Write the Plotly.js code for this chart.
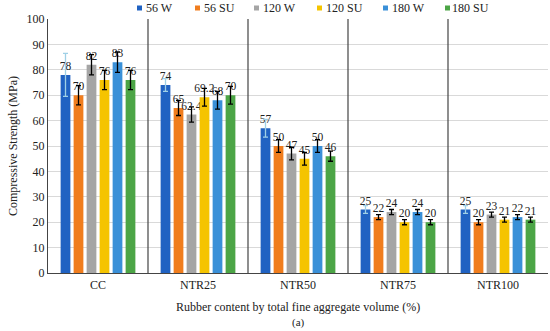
<!DOCTYPE html>
<html>
<head>
<meta charset="utf-8">
<script src="https://cdn.plot.ly/plotly-3.0.1.min.js"></script>
<style>html,body{margin:0;padding:0;background:#fff;}#chart{width:550px;height:331px;}</style>
</head>
<body>
<div id="chart"></div>
<script>
const categories = ["CC", "NTR25", "NTR50", "NTR75", "NTR100"];
const seriesNames = ["56 W", "56 SU", "120 W", "120 SU", "180 W", "180 SU"];
const values = [
  [78, 74, 57, 25, 25],
  [70, 65, 50, 22, 20],
  [82, 62.4, 47, 24, 23],
  [76, 69.2, 45, 20, 21],
  [83, 68, 50, 24, 22],
  [76, 70, 46, 20, 21]
];
const labels = [
  ["78", "74", "57", "25", "25"],
  ["70", "65", "50", "22", "20"],
  ["82", "62.4", "47", "24", "23"],
  ["76", "69.2", "45", "20", "21"],
  ["83", "68", "50", "24", "22"],
  ["76", "70", "46", "20", "21"]
];
const errors = [
  [8.5, 2.5, 3.5, 1.5, 1.5],
  [3.8, 3, 2.5, 1, 1],
  [4, 3, 2.5, 1, 1],
  [3.8, 3.5, 2.5, 1, 1],
  [4, 3.5, 2.5, 1, 1],
  [3.8, 3.5, 2, 1, 1]
];
const colors = ["#2062c2", "#f07d1e", "#a5a5a5", "#f5c400", "#3a90d8", "#4ca546"];
const errColors = ["#9fd0e6", "#000", "#000", "#000", "#000", "#000"];

// legend layout (pixel positions of marker left edge and text start)
const W = 550, H = 331, ML = 48, MR = 2, MT = 19, MB = 58;
const PW = W - ML - MR, PH = H - MT - MB;
const legMarkerPx = [137, 195, 254, 317, 383, 445];
const legTextPx = [145, 203, 262, 325, 391, 451];
const legYPx = 8;
const px2x = p => (p - ML) / PW;
const px2y = p => (H - MB - p) / PH;

const serif = "Liberation Serif";
const traces = seriesNames.map((n, i) => ({
  type: "bar",
  name: n,
  x: categories,
  y: values[i],
  text: labels[i],
  textposition: "outside",
  constraintext: "none",
  cliponaxis: false,
  textfont: {family: serif, size: 11.5, color: "#222"},
  marker: {color: colors[i]},
  error_y: {type: "data", array: errors[i], visible: true, color: errColors[i], thickness: 1.3, width: 2.5}
}));

const shapes = [0.5, 1.5, 2.5, 3.5].map(v => ({
  type: "line", xref: "x", yref: "paper", x0: v, x1: v, y0: 0, y1: 1,
  line: {color: "#444", width: 1.2}
}));
seriesNames.forEach((n, i) => {
  shapes.push({type: "rect", xref: "paper", yref: "paper",
    x0: px2x(legMarkerPx[i]), x1: px2x(legMarkerPx[i] + 5),
    y0: px2y(legYPx + 2.5), y1: px2y(legYPx - 2.5),
    fillcolor: colors[i], line: {width: 0}});
});

const annotations = [{text: "(a)", xref: "paper", yref: "paper", x: 0.5, y: 0, yshift: -49,
  showarrow: false, font: {family: serif, size: 11}, xanchor: "center", yanchor: "middle"}];
seriesNames.forEach((n, i) => {
  annotations.push({text: n, xref: "paper", yref: "paper", x: px2x(legTextPx[i]), y: px2y(legYPx),
    xanchor: "left", yanchor: "middle", showarrow: false, borderpad: 0,
    font: {family: serif, size: 12, color: "#222"}});
});

const layout = {
  width: W, height: H,
  margin: {l: ML, r: MR, t: MT, b: MB},
  paper_bgcolor: "#fff", plot_bgcolor: "#fff",
  barmode: "group", bargap: 0.22, bargroupgap: 0.25,
  font: {family: serif, size: 12, color: "#222"},
  showlegend: false,
  xaxis: {type: "category", showline: true, linecolor: "#444", linewidth: 1.2,
          ticks: "", tickfont: {family: serif, size: 12}, showgrid: false,
          title: {text: "Rubber content by total fine aggregate volume (%)", font: {family: serif, size: 12}, standoff: 12}},
  yaxis: {range: [0, 100], dtick: 10, showline: true, linecolor: "#444", linewidth: 1.2,
          gridcolor: "#d9d9d9", gridwidth: 1, ticks: "", tickfont: {family: serif, size: 12},
          zeroline: false,
          title: {text: "Compressive Strength (MPa)", font: {family: serif, size: 12}, standoff: 6}},
  shapes: shapes,
  annotations: annotations
};
Plotly.newPlot("chart", traces, layout, {displayModeBar: false});
</script>
</body>
</html>
